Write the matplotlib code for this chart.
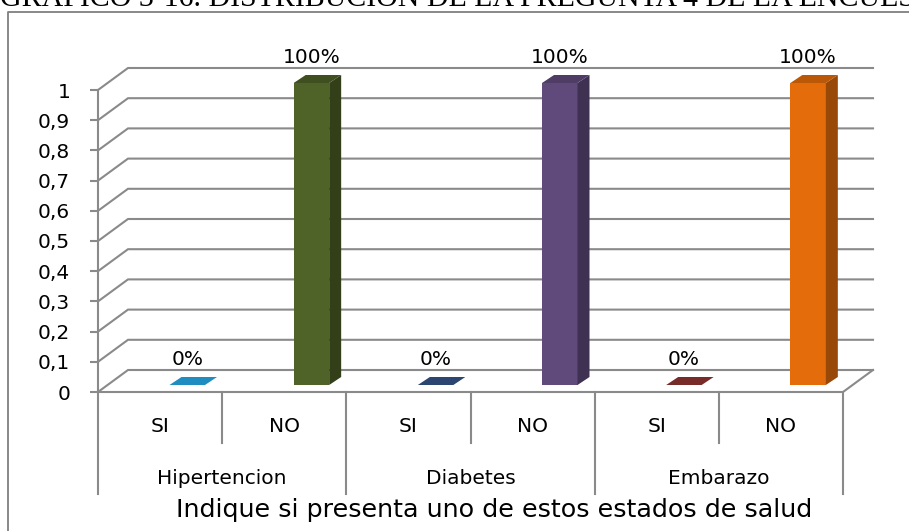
import matplotlib
matplotlib.use("Agg")
import matplotlib.pyplot as plt
from matplotlib.patches import Polygon
from matplotlib.lines import Line2D

# ---- data -------------------------------------------------------------
groups = ["Hipertencion", "Diabetes", "Embarazo"]
answers = ["SI", "NO", "SI", "NO", "SI", "NO"]
values = [0.0, 1.0, 0.0, 1.0, 0.0, 1.0]
value_labels = ["0%", "100%", "0%", "100%", "0%", "100%"]
y_ticks = [0, 0.1, 0.2, 0.3, 0.4, 0.5, 0.6, 0.7, 0.8, 0.9, 1]
y_tick_labels = ["0", "0,1", "0,2", "0,3", "0,4", "0,5", "0,6", "0,7", "0,8", "0,9", "1"]
axis_title = "Indique si presenta uno de estos estados de salud"
chart_title = "GRAFICO 3-16. DISTRIBUCION DE LA PREGUNTA 4 DE LA ENCUESTA"

# (front, side, top) shades for each column
face_colors = [
    ("#2EA3D6", "#17698F", "#1F8DC0"),
    ("#4F6228", "#323F18", "#3F4F1F"),
    ("#34558A", "#1F3352", "#2B4670"),
    ("#604A7B", "#3F3151", "#4F3D66"),
    ("#8B3331", "#5C2120", "#772C2A"),
    ("#E46C0A", "#984807", "#BB5808"),
]

# ---- figure / axes ----------------------------------------------------
W, H = 909, 531
fig = plt.figure(figsize=(W / 100, H / 100), dpi=100)
fig.patch.set_facecolor("white")

x0_px, x1_px, y0_px, y1_px = 98, 843, 392, 90
ax = fig.add_axes([x0_px / W, (H - y0_px) / H, (x1_px - x0_px) / W, (y0_px - y1_px) / H])
n = len(values)
ax.set_xlim(0, n)
ax.set_ylim(0, 1)
ax.patch.set_alpha(0)
for s in ax.spines.values():
    s.set_visible(False)

FONT = ["DejaVu Sans"]
FS = 14.5
GRID = "#8A8A8A"
LW = 1.5

# oblique depth of the walls (data units)
px_x = (x1_px - x0_px) / n
px_y = (y0_px - y1_px)
DXW, DYW = 30 / px_x, 22 / px_y
# column placement within each slot
B_OFF, B_BOT, B_W = 71.5 / px_x, 7 / px_y, 35.5 / px_x
B_DX, B_DY = 12 / px_x, 8 / px_y

# back wall gridlines with side-wall diagonals
for v in y_ticks:
    ax.plot([0, DXW, n + DXW], [v, v + DYW, v + DYW], color=GRID, lw=LW,
            clip_on=False, solid_joinstyle="miter", zorder=1)
# floor
ax.plot([0, n, n + DXW], [0, 0, DYW], color=GRID, lw=LW, clip_on=False, zorder=1)
# front value axis
ax.plot([0, 0], [0, 1], color=GRID, lw=LW, clip_on=False, zorder=1)

ax.set_yticks(y_ticks)
ax.set_yticklabels(y_tick_labels, fontsize=FS, family=FONT)
ax.tick_params(axis="y", length=6, width=LW, color=GRID, pad=14)
ax.set_xticks([])

# columns
for i, (v, (cf, cs, ct)) in enumerate(zip(values, face_colors)):
    left = i + B_OFF
    ax.bar(left, v, width=B_W, bottom=B_BOT, align="edge", color=cf,
           linewidth=0, zorder=3, clip_on=False)
    top = B_BOT + v
    side = Polygon([(left + B_W, B_BOT), (left + B_W + B_DX, B_BOT + B_DY),
                    (left + B_W + B_DX, top + B_DY), (left + B_W, top)],
                   closed=True, facecolor=cs, edgecolor="none", zorder=3, clip_on=False)
    lid = Polygon([(left, top), (left + B_W, top), (left + B_W + B_DX, top + B_DY),
                   (left + B_DX, top + B_DY)],
                  closed=True, facecolor=ct, edgecolor="none", zorder=4, clip_on=False)
    ax.add_patch(side)
    ax.add_patch(lid)
    ax.text(left + B_W / 2, top + 0.085, value_labels[i], ha="center", va="center",
            fontsize=FS, family=FONT, color="black", clip_on=False)

# category axis: divider ticks and labels
for k in range(n + 1):
    depth = 102 / px_y if k % 2 == 0 else 51 / px_y
    ax.plot([k, k], [0, -depth], color=GRID, lw=LW, clip_on=False, zorder=1)
for i, a in enumerate(answers):
    ax.text(i + 0.5, -34 / px_y, a, ha="center", va="center", fontsize=FS,
            family=FONT, clip_on=False)
for g, name in enumerate(groups):
    ax.text(2 * g + 1, -87 / px_y, name, ha="center", va="center", fontsize=FS,
            family=FONT, clip_on=False)
ax.text(3.19, -118 / px_y, axis_title, ha="center", va="center", fontsize=18.3,
        family=FONT, clip_on=False)

# chart frame
fig.add_artist(Line2D([8 / W, 8 / W, 1.0], [0.0, 1 - 12 / H, 1 - 12 / H],
                      transform=fig.transFigure, color="#7F7F7F", lw=1.3))
# page caption above the chart, partly off the page
fig.text(0.0, 1 - 6.5 / H, chart_title, ha="left", va="baseline", fontsize=21.5,
         family=["Liberation Serif", "DejaVu Serif"], color="black")

fig.savefig("out.png", dpi=100)
